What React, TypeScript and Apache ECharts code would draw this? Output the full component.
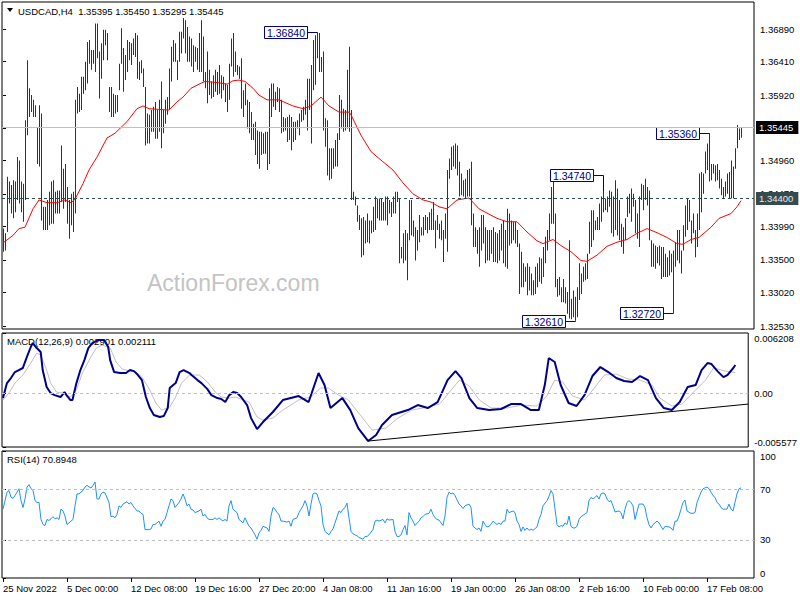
import React, { useEffect, useRef } from 'react';
import * as echarts from 'echarts';

// ---------- DATA ----------
const SYMBOL_HEADER = 'USDCAD,H4  1.35395 1.35450 1.35295 1.35445';
const MACD_HEADER = 'MACD(12,26,9) 0.002901 0.002111';
const RSI_HEADER = 'RSI(14) 70.8948';
const WATERMARK = 'ActionForex.com';

const X_LABELS = ['25 Nov 2022', '5 Dec 00:00', '12 Dec 08:00', '19 Dec 16:00', '27 Dec 20:00', '4 Jan 08:00',
  '11 Jan 16:00', '19 Jan 00:00', '26 Jan 08:00', '2 Feb 16:00', '10 Feb 00:00', '17 Feb 08:00'];
const BARS_PER_LABEL = 32;

const PRICE_TICKS = [1.3253, 1.3302, 1.335, 1.3399, 1.3447, 1.3496, 1.3544, 1.3592, 1.3641, 1.3689];
// 1.35440 sits under the current-price box in the picture, so its label is not shown
const PRICE_LABELS = [1.3253, 1.3302, 1.335, 1.3399, 1.3447, 1.3496, 1.3592, 1.3641, 1.3689];
const MACD_TICKS = [-0.005577, 0, 0.006208];
const RSI_TICKS = [0, 30, 70, 100];

const CURRENT_PRICE = 1.35445;
const SUPPORT_PRICE = 1.344;

const HIGHS = [
  1.3396, 1.3389, 1.3472, 1.3465, 1.3460, 1.3467, 1.3465, 1.3501, 1.3496, 1.3465,
  1.3462, 1.3555, 1.3643, 1.3602, 1.3592, 1.3585, 1.3577, 1.3545, 1.3577, 1.3565,
  1.3428, 1.3428, 1.3438, 1.3450, 1.3465, 1.3467, 1.3450, 1.3452, 1.3452, 1.3518,
  1.3484, 1.3491, 1.3457, 1.3438, 1.3447, 1.3450, 1.3585, 1.3604, 1.3594, 1.3619,
  1.3619, 1.3641, 1.3670, 1.3673, 1.3658, 1.3658, 1.3697, 1.3697, 1.3656, 1.3668,
  1.3688, 1.3688, 1.3683, 1.3604, 1.3604, 1.3594, 1.3592, 1.3592, 1.3638, 1.3690,
  1.3661, 1.3651, 1.3673, 1.3670, 1.3668, 1.3675, 1.3683, 1.3680, 1.3641, 1.3643,
  1.3631, 1.3604, 1.3565, 1.3563, 1.3570, 1.3575, 1.3582, 1.3570, 1.3585, 1.3612,
  1.3570, 1.3585, 1.3589, 1.3631, 1.3663, 1.3673, 1.3668, 1.3643, 1.3685, 1.3685,
  1.3705, 1.3702, 1.3692, 1.3678, 1.3675, 1.3665, 1.3663, 1.3661, 1.3683, 1.3702,
  1.3678, 1.3626, 1.3656, 1.3629, 1.3612, 1.3621, 1.3629, 1.3626, 1.3636, 1.3621,
  1.3619, 1.3609, 1.3607, 1.3638, 1.3675, 1.3683, 1.3656, 1.3636, 1.3634, 1.3646,
  1.3599, 1.3609, 1.3585, 1.3582, 1.3567, 1.3550, 1.3553, 1.3540, 1.3538, 1.3538,
  1.3536, 1.3538, 1.3538, 1.3602, 1.3609, 1.3609, 1.3597, 1.3604, 1.3602, 1.3585,
  1.3560, 1.3558, 1.3560, 1.3563, 1.3560, 1.3553, 1.3553, 1.3555, 1.3565, 1.3570,
  1.3575, 1.3585, 1.3616, 1.3616, 1.3636, 1.3673, 1.3680, 1.3684, 1.3683, 1.3648,
  1.3656, 1.3558, 1.3555, 1.3514, 1.3514, 1.3514, 1.3526, 1.3536, 1.3592, 1.3585,
  1.3572, 1.3570, 1.3629, 1.3663, 1.3570, 1.3450, 1.3443, 1.3430, 1.3416, 1.3411,
  1.3413, 1.3408, 1.3418, 1.3408, 1.3408, 1.3428, 1.3443, 1.3440, 1.3440, 1.3440,
  1.3435, 1.3443, 1.3443, 1.3438, 1.3435, 1.3443, 1.3450, 1.3450, 1.3440, 1.3369,
  1.3389, 1.3394, 1.3389, 1.3438, 1.3438, 1.3408, 1.3398, 1.3394, 1.3416, 1.3398,
  1.3413, 1.3416, 1.3413, 1.3420, 1.3425, 1.3435, 1.3408, 1.3416, 1.3403, 1.3408,
  1.3394, 1.3418, 1.3482, 1.3499, 1.3516, 1.3518, 1.3521, 1.3518, 1.3494, 1.3477,
  1.3467, 1.3469, 1.3482, 1.3484, 1.3494, 1.3418, 1.3398, 1.3394, 1.3398, 1.3416,
  1.3416, 1.3398, 1.3394, 1.3394, 1.3394, 1.3398, 1.3391, 1.3389, 1.3394, 1.3403,
  1.3408, 1.3394, 1.3425, 1.3418, 1.3408, 1.3406, 1.3406, 1.3394, 1.3374, 1.3362,
  1.3345, 1.3340, 1.3345, 1.3340, 1.3330, 1.3320, 1.3340, 1.3345, 1.3354, 1.3352,
  1.3369, 1.3384, 1.3394, 1.3418, 1.3457, 1.3474, 1.3418, 1.3322, 1.3325, 1.3310,
  1.3322, 1.3310, 1.3303, 1.3379, 1.3293, 1.3305, 1.3296, 1.3310, 1.3345, 1.3330,
  1.3340, 1.3345, 1.3359, 1.3406, 1.3423, 1.3423, 1.3408, 1.3413, 1.3433, 1.3443,
  1.3450, 1.3440, 1.3443, 1.3452, 1.3450, 1.3443, 1.3467, 1.3455, 1.3438, 1.3403,
  1.3398, 1.3411, 1.3443, 1.3447, 1.3455, 1.3447, 1.3438, 1.3418, 1.3443, 1.3462,
  1.3460, 1.3469, 1.3457, 1.3452, 1.3379, 1.3374, 1.3371, 1.3369, 1.3371, 1.3369,
  1.3369, 1.3359, 1.3354, 1.3364, 1.3359, 1.3364, 1.3376, 1.3394, 1.3394, 1.3364,
  1.3401, 1.3430, 1.3440, 1.3438, 1.3408, 1.3418, 1.3394, 1.3418, 1.3477, 1.3479,
  1.3477, 1.3509, 1.3521, 1.3536, 1.3491, 1.3491, 1.3489, 1.3491, 1.3482, 1.3469,
  1.3457, 1.3465, 1.3477, 1.3479, 1.3496, 1.3487, 1.3514, 1.3548, 1.3543, 1.3545,
];

const LOWS = [
  1.3362, 1.3364, 1.3391, 1.3433, 1.3418, 1.3411, 1.3420, 1.3438, 1.3433, 1.3420,
  1.3406, 1.3438, 1.3533, 1.3560, 1.3567, 1.3560, 1.3560, 1.3491, 1.3487, 1.3408,
  1.3394, 1.3394, 1.3394, 1.3401, 1.3403, 1.3403, 1.3418, 1.3418, 1.3418, 1.3435,
  1.3425, 1.3435, 1.3403, 1.3381, 1.3401, 1.3391, 1.3418, 1.3565, 1.3567, 1.3570,
  1.3594, 1.3599, 1.3609, 1.3638, 1.3629, 1.3638, 1.3626, 1.3646, 1.3587, 1.3616,
  1.3643, 1.3665, 1.3643, 1.3567, 1.3560, 1.3560, 1.3565, 1.3567, 1.3599, 1.3638,
  1.3597, 1.3614, 1.3626, 1.3643, 1.3636, 1.3651, 1.3648, 1.3616, 1.3614, 1.3624,
  1.3604, 1.3518, 1.3521, 1.3521, 1.3538, 1.3538, 1.3528, 1.3528, 1.3538, 1.3514,
  1.3536, 1.3550, 1.3563, 1.3570, 1.3612, 1.3641, 1.3641, 1.3614, 1.3641, 1.3653,
  1.3675, 1.3653, 1.3641, 1.3641, 1.3634, 1.3626, 1.3641, 1.3629, 1.3626, 1.3626,
  1.3612, 1.3602, 1.3580, 1.3592, 1.3587, 1.3589, 1.3597, 1.3592, 1.3594, 1.3587,
  1.3599, 1.3582, 1.3567, 1.3585, 1.3634, 1.3619, 1.3626, 1.3621, 1.3616, 1.3572,
  1.3560, 1.3577, 1.3543, 1.3536, 1.3526, 1.3526, 1.3504, 1.3491, 1.3484, 1.3504,
  1.3506, 1.3506, 1.3482, 1.3491, 1.3560, 1.3575, 1.3570, 1.3582, 1.3567, 1.3536,
  1.3538, 1.3540, 1.3523, 1.3526, 1.3511, 1.3523, 1.3526, 1.3543, 1.3533, 1.3553,
  1.3555, 1.3563, 1.3540, 1.3570, 1.3521, 1.3599, 1.3607, 1.3646, 1.3626, 1.3626,
  1.3540, 1.3516, 1.3474, 1.3467, 1.3469, 1.3484, 1.3487, 1.3487, 1.3526, 1.3543,
  1.3538, 1.3540, 1.3543, 1.3538, 1.3438, 1.3438, 1.3430, 1.3406, 1.3394, 1.3354,
  1.3357, 1.3374, 1.3376, 1.3374, 1.3389, 1.3391, 1.3394, 1.3411, 1.3408, 1.3408,
  1.3408, 1.3408, 1.3401, 1.3418, 1.3413, 1.3418, 1.3418, 1.3435, 1.3345, 1.3352,
  1.3345, 1.3349, 1.3320, 1.3379, 1.3386, 1.3384, 1.3349, 1.3364, 1.3376, 1.3386,
  1.3386, 1.3394, 1.3389, 1.3394, 1.3394, 1.3394, 1.3367, 1.3394, 1.3381, 1.3379,
  1.3347, 1.3381, 1.3362, 1.3469, 1.3482, 1.3487, 1.3484, 1.3474, 1.3443, 1.3445,
  1.3443, 1.3440, 1.3443, 1.3443, 1.3401, 1.3369, 1.3369, 1.3359, 1.3340, 1.3364,
  1.3374, 1.3345, 1.3349, 1.3349, 1.3359, 1.3347, 1.3347, 1.3345, 1.3349, 1.3364,
  1.3345, 1.3340, 1.3337, 1.3371, 1.3374, 1.3379, 1.3374, 1.3369, 1.3300, 1.3310,
  1.3310, 1.3318, 1.3298, 1.3305, 1.3298, 1.3298, 1.3300, 1.3310, 1.3318, 1.3315,
  1.3325, 1.3345, 1.3364, 1.3379, 1.3403, 1.3403, 1.3310, 1.3296, 1.3298, 1.3288,
  1.3288, 1.3286, 1.3271, 1.3264, 1.3263, 1.3266, 1.3261, 1.3266, 1.3291, 1.3300,
  1.3318, 1.3320, 1.3322, 1.3359, 1.3369, 1.3379, 1.3394, 1.3394, 1.3394, 1.3406,
  1.3420, 1.3423, 1.3420, 1.3428, 1.3389, 1.3384, 1.3394, 1.3386, 1.3379, 1.3369,
  1.3359, 1.3379, 1.3413, 1.3418, 1.3406, 1.3428, 1.3389, 1.3381, 1.3369, 1.3438,
  1.3423, 1.3438, 1.3430, 1.3379, 1.3340, 1.3340, 1.3337, 1.3345, 1.3342, 1.3322,
  1.3325, 1.3325, 1.3325, 1.3327, 1.3332, 1.3272, 1.3340, 1.3349, 1.3345, 1.3330,
  1.3364, 1.3384, 1.3394, 1.3406, 1.3374, 1.3389, 1.3354, 1.3369, 1.3394, 1.3420,
  1.3447, 1.3477, 1.3482, 1.3465, 1.3467, 1.3477, 1.3465, 1.3467, 1.3455, 1.3445,
  1.3440, 1.3443, 1.3447, 1.3440, 1.3440, 1.3440, 1.3484, 1.3514, 1.3526, 1.35295,
];

// moving average read at bar indices: [bar index, price]
const MA_POINTS: [number, number][] = [
  [0, 1.3375], [5, 1.3386], [8, 1.3396], [11, 1.3398], [15, 1.3425], [18, 1.3438], [22, 1.3434], [27, 1.3434],
  [31, 1.3438], [34, 1.3434], [36, 1.3439], [40, 1.3462], [43, 1.3482], [47, 1.3501], [52, 1.3529], [56, 1.3536],
  [62, 1.3553], [67, 1.3572], [70, 1.3576], [73, 1.3572], [78, 1.3571], [83, 1.3570], [87, 1.3582], [90, 1.3589],
  [94, 1.3602], [98, 1.3608], [101, 1.3612], [105, 1.3611], [108, 1.3610], [112, 1.3608], [115, 1.3613],
  [118, 1.3614], [121, 1.3612], [125, 1.3602], [128, 1.3592], [132, 1.3585], [138, 1.3585], [145, 1.3576],
  [150, 1.3572], [154, 1.3576], [159, 1.3589], [163, 1.3576], [168, 1.3567], [173, 1.3567], [174, 1.3563],
  [179, 1.3533], [184, 1.3509], [190, 1.3494], [195, 1.3482], [200, 1.3463], [205, 1.3447], [210, 1.3438],
  [214, 1.3435], [218, 1.3428], [222, 1.3425], [227, 1.3438], [233, 1.3441], [238, 1.3425], [247, 1.3411],
  [252, 1.3406], [257, 1.3406], [262, 1.3391], [267, 1.3378], [270, 1.3374], [275, 1.3380], [279, 1.3371],
  [284, 1.3362], [289, 1.3349], [292, 1.3348], [297, 1.3357], [302, 1.3370], [307, 1.3376], [312, 1.3380],
  [317, 1.3389], [322, 1.3396], [327, 1.3390], [332, 1.3383], [337, 1.3374], [340, 1.3373], [344, 1.3380],
  [348, 1.3383], [354, 1.3398], [358, 1.3411], [364, 1.3418], [367, 1.3428], [369, 1.3437],
];

// high/low labels: bar index the label points to, and the price written in it
const ANN_INDEX = [157, 300, 286, 335, 353];
const ANN_PRICE = [1.3684, 1.3474, 1.3261, 1.3272, 1.3536];

const MACD_POINTS: [number, number][] = [
  [0, -0.00052], [2, 0.00103], [4, 0.00155], [6, 0.00217], [8, 0.00238], [10, 0.00259], [12, 0.00372], [14, 0.00476],
  [15, 0.00517], [17, 0.00465], [19, 0.00424], [20, 0.00238], [22, 0.00062], [24, 0], [26, -0.00021], [29, -0.00041],
  [31, 0.0001], [32, -0.00021], [34, -0.00072], [35, -0.00072], [37, 0.00103], [39, 0.00238], [41, 0.00341],
  [43, 0.00465], [45, 0.00517], [48, 0.00548], [51, 0.00548], [53, 0.00476], [54, 0.00341], [56, 0.00217],
  [59, 0.00207], [62, 0.00207], [64, 0.00238], [66, 0.00227], [68, 0.00186], [70, 0.00134], [72, -0.00041],
  [74, -0.00155], [76, -0.00227], [79, -0.00248], [81, -0.00238], [83, -0.00155], [84, 0.00052], [87, 0.00103],
  [89, 0.00217], [91, 0.00238], [94, 0.00207], [95, 0.00186], [98, 0.00134], [100, 0.00103], [103, 0.00041],
  [105, -0.00021], [108, -0.00052], [110, -0.00062], [112, -0.00093], [114, -0.00021], [116, 0.0001], [118, 0],
  [120, -0.00041], [123, -0.00124], [125, -0.00259], [128, -0.00372], [131, -0.003], [136, -0.00196],
  [141, -0.00072], [149, -0.00031], [154, -0.00093], [159, 0.00207], [162, 0.00083], [165, -0.00155],
  [171, -0.00052], [175, -0.00176], [179, -0.00362], [184, -0.00496], [188, -0.00434], [191, -0.00331],
  [196, -0.00227], [204, -0.00176], [209, -0.00124], [214, -0.00155], [219, -0.00093], [224, 0.00134],
  [228, 0.00227], [231, 0.00155], [235, -0.00052], [239, -0.00155], [245, -0.00176], [251, -0.00165],
  [256, -0.00114], [261, -0.00114], [266, -0.00176], [270, -0.00176], [273, 0.00083], [275, 0.00362],
  [278, 0.00321], [281, 0.00083], [285, -0.00103], [289, -0.00134], [293, -0.00021], [297, 0.00176],
  [301, 0.00269], [305, 0.00217], [309, 0.00155], [313, 0.00124], [317, 0.00114], [321, 0.00176], [325, 0.00134],
  [329, -0.00052], [333, -0.00155], [337, -0.00176], [341, -0.00093], [345, 0.00062], [349, 0.00083],
  [352, 0.00238], [355, 0.0031], [357, 0.003], [360, 0.00227], [363, 0.00165], [365, 0.00186], [368, 0.00259],
  [369, 0.002901],
];

const SIGNAL_POINTS: [number, number][] = [
  [0, -0.00072], [3, 0], [6, 0.00103], [10, 0.00186], [14, 0.0031], [17, 0.00414], [19, 0.00393], [22, 0.00238],
  [24, 0.00103], [27, 0.0001], [30, 0], [34, -0.00041], [37, 0.00031], [40, 0.00207], [44, 0.00362], [47, 0.00465],
  [50, 0.00496], [54, 0.00465], [57, 0.00321], [60, 0.00248], [64, 0.00227], [67, 0.00217], [70, 0.00165],
  [74, 0.00031], [77, -0.00103], [80, -0.00176], [84, -0.00145], [87, -0.00041], [90, 0.00103], [94, 0.00186],
  [99, 0.00186], [103, 0.00114], [107, 0.0001], [110, -0.00041], [114, -0.00052], [117, -0.00041], [120, -0.00062],
  [124, -0.00093], [128, -0.00248], [131, -0.00279], [136, -0.00259], [141, -0.00176], [149, -0.00072],
  [155, -0.00041], [160, 0.00052], [164, 0.00052], [169, -0.00021], [174, -0.00072], [180, -0.00227],
  [186, -0.00383], [193, -0.00362], [199, -0.00259], [206, -0.00176], [214, -0.00145], [220, -0.00114],
  [225, 0.0001], [230, 0.00134], [235, 0.00072], [240, -0.00072], [246, -0.00155], [254, -0.00155],
  [261, -0.00124], [269, -0.00134], [274, -0.00031], [278, 0.00134], [282, 0.00114], [287, -0.00031],
  [293, -0.00072], [298, 0.00052], [303, 0.00186], [309, 0.00196], [315, 0.00145], [321, 0.00134], [327, 0.00083],
  [331, -0.00052], [337, -0.00134], [342, -0.00114], [348, 0.0001], [354, 0.00134], [358, 0.00259], [364, 0.00227],
  [369, 0.002111],
];

// trend line drawn on the MACD window: [bar index, value]
const MACD_TREND: [number, number][] = [[184, -0.00496], [375.5, -0.00114]];

const RSI_POINTS: [number, number][] = [
  [0, 54.2], [2, 67.6], [3, 68.9], [4, 63.5], [5, 62.7], [6, 64.9], [8, 70.3], [9, 60.9], [10, 55.5], [11, 62.2],
  [12, 71.6], [13, 73.5], [14, 70.3], [15, 68.9], [16, 60.9], [17, 59.5], [18, 59.5], [19, 46.1], [20, 42.1],
  [21, 41.3], [22, 46.1], [23, 45.3], [24, 46.6], [25, 48.3], [26, 46.6], [27, 47.4], [28, 46.1], [29, 54.2],
  [30, 52.8], [31, 48.8], [32, 42.1], [33, 43.4], [35, 46.1], [36, 56.8], [37, 66.2], [38, 66.2], [39, 67.6],
  [40, 68.9], [41, 71.6], [42, 72.9], [44, 70.8], [45, 72.9], [46, 75.6], [47, 62.2], [48, 62.2], [49, 66.2],
  [50, 67.6], [51, 67.0], [53, 59.5], [54, 48.3], [55, 48.8], [56, 47.4], [57, 50.1], [58, 56.8], [59, 55.5],
  [60, 58.2], [62, 60.1], [63, 58.2], [64, 59.5], [65, 56.8], [67, 52.8], [68, 52.8], [69, 50.9], [70, 50.1],
  [71, 38.1], [73, 38.1], [74, 38.6], [75, 42.1], [76, 42.1], [78, 44.8], [79, 40.7], [80, 44.8], [81, 46.1],
  [82, 51.5], [83, 56.8], [84, 62.2], [85, 60.9], [86, 55.5], [88, 59.5], [89, 62.2], [90, 66.2], [91, 62.2],
  [92, 56.8], [93, 58.2], [94, 54.2], [95, 53.6], [96, 51.5], [98, 52.8], [99, 54.2], [100, 48.8], [101, 50.1],
  [102, 47.4], [103, 46.1], [105, 46.1], [106, 47.4], [107, 46.1], [108, 47.4], [110, 44.8], [111, 46.1],
  [112, 44.8], [113, 56.8], [114, 60.9], [115, 54.2], [116, 52.8], [117, 51.5], [118, 46.1], [119, 44.8],
  [120, 43.4], [121, 47.4], [123, 40.7], [124, 39.4], [125, 36.7], [126, 34.0], [127, 30.5], [128, 35.4],
  [129, 37.5], [130, 40.7], [132, 39.4], [133, 36.7], [134, 48.8], [135, 55.5], [136, 54.2], [137, 51.5],
  [138, 50.1], [139, 44.8], [140, 44.8], [142, 44.0], [143, 44.8], [144, 40.7], [145, 46.1], [147, 47.4],
  [148, 51.5], [149, 54.2], [150, 56.8], [151, 60.9], [152, 56.8], [153, 48.8], [154, 58.2], [155, 66.2],
  [156, 67.0], [157, 66.2], [158, 60.9], [159, 56.8], [160, 42.1], [161, 36.7], [163, 34.0], [164, 36.7],
  [165, 38.6], [166, 43.4], [168, 52.8], [169, 51.5], [170, 54.2], [171, 55.5], [172, 59.0], [173, 47.4],
  [174, 36.7], [175, 34.8], [177, 33.2], [178, 31.9], [180, 30.5], [181, 32.7], [182, 32.7], [183, 34.0],
  [185, 38.1], [186, 44.8], [187, 45.6], [188, 44.8], [190, 46.1], [191, 43.4], [192, 46.6], [193, 45.6],
  [195, 46.1], [196, 36.7], [197, 32.7], [198, 32.7], [199, 34.0], [200, 38.1], [201, 41.3], [202, 34.0],
  [203, 51.5], [204, 47.4], [205, 44.8], [206, 41.3], [208, 44.8], [209, 47.4], [210, 48.3], [211, 50.1],
  [213, 50.9], [214, 54.2], [215, 50.1], [216, 47.4], [217, 46.1], [218, 45.6], [220, 41.3], [221, 48.8],
  [222, 63.5], [223, 67.6], [224, 66.2], [225, 67.0], [226, 64.9], [228, 58.2], [229, 56.8], [230, 54.7],
  [231, 56.8], [233, 58.2], [234, 55.5], [235, 40.7], [236, 39.4], [237, 38.1], [238, 39.4], [239, 36.7],
  [240, 44.8], [241, 42.1], [242, 40.2], [243, 40.7], [244, 42.1], [245, 44.8], [247, 42.1], [248, 43.4],
  [249, 42.1], [250, 44.8], [251, 44.8], [252, 54.2], [253, 51.5], [255, 52.8], [256, 51.5], [257, 44.8],
  [258, 42.1], [259, 36.7], [260, 40.2], [261, 37.5], [262, 39.4], [263, 37.5], [264, 38.6], [265, 37.5],
  [267, 40.2], [268, 46.1], [269, 50.1], [270, 56.8], [272, 60.9], [273, 64.4], [274, 68.9], [275, 66.2],
  [276, 54.2], [277, 42.1], [278, 40.2], [279, 41.3], [280, 40.7], [281, 43.4], [282, 42.1], [283, 48.8],
  [284, 40.7], [285, 39.4], [286, 39.4], [287, 40.7], [288, 46.1], [289, 48.3], [290, 49.3], [292, 51.5],
  [293, 60.9], [294, 63.5], [295, 62.2], [296, 63.5], [297, 64.9], [298, 62.2], [299, 66.2], [300, 67.0],
  [301, 66.2], [302, 62.2], [303, 60.1], [304, 60.9], [305, 56.8], [306, 52.0], [308, 52.8], [309, 51.5],
  [310, 46.6], [311, 54.2], [312, 59.5], [313, 60.9], [314, 59.5], [315, 56.8], [316, 46.1], [318, 58.2],
  [319, 58.2], [320, 58.2], [321, 55.5], [322, 47.4], [323, 42.1], [324, 39.4], [325, 42.1], [327, 44.8],
  [328, 43.4], [329, 40.7], [330, 38.1], [331, 40.7], [333, 40.2], [334, 39.4], [335, 37.5], [336, 44.8],
  [337, 44.8], [338, 48.8], [339, 54.2], [340, 59.5], [341, 61.4], [342, 52.8], [344, 50.9], [345, 50.9],
  [346, 51.5], [347, 59.5], [348, 63.5], [349, 67.6], [350, 70.3], [352, 71.6], [353, 70.3], [354, 67.6],
  [355, 64.9], [356, 63.5], [357, 59.5], [358, 58.2], [359, 55.5], [360, 54.2], [362, 54.2], [363, 58.2],
  [364, 54.2], [365, 52.8], [366, 59.5], [367, 66.2], [368, 70.3], [369, 70.8948],
];

// ---------- STYLE ----------
const FONT = "'Liberation Sans', Arial, sans-serif";
const FS = 9.5;
const BAR_COLOR = '#0F3D57';
const NAVY = '#000088';

export default function App() {
  const ref = useRef<HTMLDivElement>(null);

  useEffect(() => {
    const chart = echarts.init(ref.current!, null, { renderer: 'svg' });
    const xTicks = X_LABELS.map((_, k) => k * BARS_PER_LABEL);
    const xMax = 375.5;

    const barData = HIGHS.map((h, i) => [i, LOWS[i], h]);
    const annData = ANN_INDEX.map((idx, k) => {
      const p = ANN_PRICE[k];
      const end = p > HIGHS[idx] ? HIGHS[idx] : p < LOWS[idx] ? LOWS[idx] : p;
      return [idx, p, end];
    });

    const baseX = (gridIndex: number) => ({
      type: 'value', gridIndex, min: -0.5, max: xMax, show: false, splitLine: { show: false },
    });
    const yLabel = { color: '#000', fontSize: FS, fontFamily: FONT, margin: 6 };
    const edgeRich = {
      top: { padding: [10, 0, 0, 0], color: '#000', fontSize: FS, fontFamily: FONT },
      bot: { padding: [0, 0, 10, 0], color: '#000', fontSize: FS, fontFamily: FONT },
    };

    const option: any = {
      animation: false,
      backgroundColor: '#ffffff',
      grid: [
        { left: 2, top: 2, width: 752, height: 327, show: true, borderColor: '#000', borderWidth: 1, backgroundColor: 'transparent' },
        { left: 2, top: 333, width: 752, height: 114, show: true, borderColor: '#000', borderWidth: 1, backgroundColor: 'transparent' },
        { left: 2, top: 451, width: 752, height: 127, show: true, borderColor: '#000', borderWidth: 1, backgroundColor: 'transparent' },
      ],
      xAxis: [
        baseX(0),
        baseX(1),
        {
          type: 'value', gridIndex: 2, min: -0.5, max: xMax,
          axisLine: { show: false }, splitLine: { show: false },
          axisTick: { show: true, length: 4, customValues: xTicks, lineStyle: { color: '#000' } },
          axisLabel: {
            customValues: xTicks, align: 'left', margin: 5, color: '#000', fontSize: FS, fontFamily: FONT,
            formatter: (v: number) => X_LABELS[Math.round(v / BARS_PER_LABEL)] ?? '',
          },
        },
      ],
      yAxis: [
        {
          type: 'value', gridIndex: 0, position: 'right', min: 1.32486, max: 1.372864,
          splitLine: { show: false }, axisLine: { show: false },
          axisTick: { show: true, length: 3, customValues: PRICE_TICKS, lineStyle: { color: '#000' } },
          axisLabel: { ...yLabel, customValues: PRICE_LABELS, formatter: (v: number) => v.toFixed(5) },
        },
        {
          type: 'value', gridIndex: 1, position: 'right', min: MACD_TICKS[0], max: MACD_TICKS[2],
          splitLine: { show: false }, axisLine: { show: false },
          axisTick: { show: true, length: 3, customValues: MACD_TICKS, lineStyle: { color: '#000' } },
          axisLabel: {
            ...yLabel, customValues: MACD_TICKS, rich: edgeRich,
            formatter: (v: number) => v === 0 ? '0.00' : v > 0 ? `{top|${v.toFixed(6)}}` : `{bot|${v.toFixed(6)}}`,
          },
        },
        {
          type: 'value', gridIndex: 2, position: 'right', min: 0, max: 100,
          splitLine: { show: false }, axisLine: { show: false },
          axisTick: { show: true, length: 3, customValues: RSI_TICKS, lineStyle: { color: '#000' } },
          axisLabel: {
            ...yLabel, customValues: RSI_TICKS, rich: edgeRich,
            formatter: (v: number) => v === 100 ? '{top|100}' : v === 0 ? '{bot|0}' : String(v),
          },
        },
      ],
      graphic: [
        { type: 'text', x: 147, y: 283, z: 0, silent: true, style: { text: WATERMARK, fill: '#C4C4C4', font: `23px ${FONT}`, verticalAlign: 'middle' } },
        { type: 'polygon', z: 0, silent: true, shape: { points: [[7, 8], [13, 8], [10, 12]] }, style: { fill: '#000' } },
        { type: 'text', x: 18, y: 11, z: 0, silent: true, style: { text: SYMBOL_HEADER, fill: '#000', font: `${FS}px ${FONT}`, verticalAlign: 'middle' } },
        { type: 'text', x: 7, y: 341, z: 0, silent: true, style: { text: MACD_HEADER, fill: '#000', font: `${FS}px ${FONT}`, verticalAlign: 'middle' } },
        { type: 'text', x: 7, y: 459, z: 0, silent: true, style: { text: RSI_HEADER, fill: '#000', font: `${FS}px ${FONT}`, verticalAlign: 'middle' } },
      ],
      series: [
        {
          name: 'bars', type: 'custom', xAxisIndex: 0, yAxisIndex: 0, clip: true, silent: true,
          encode: { x: 0, y: [1, 2] },
          data: barData,
          renderItem: (_p: any, api: any) => {
            const i = api.value(0);
            const lo = api.coord([i, api.value(1)]);
            const hi = api.coord([i, api.value(2)]);
            return {
              type: 'rect',
              shape: { x: Math.round(hi[0]), y: hi[1], width: 1, height: Math.max(1, lo[1] - hi[1]) },
              style: { fill: BAR_COLOR },
            };
          },
        },
        {
          name: 'MA', type: 'line', xAxisIndex: 0, yAxisIndex: 0, data: MA_POINTS, symbol: 'none', silent: true,
          lineStyle: { color: '#FF0000', width: 1 }, z: 3,
          markLine: {
            silent: true, symbol: ['none', 'none'], animation: false, precision: 6,
            data: [
              {
                yAxis: CURRENT_PRICE, lineStyle: { color: '#C0C0C0', type: 'solid', width: 1 },
                label: { show: true, position: 'end', distance: 2, formatter: CURRENT_PRICE.toFixed(5), color: '#fff', backgroundColor: '#000', padding: [2, 5, 1, 3], fontSize: FS, fontFamily: FONT },
              },
              {
                yAxis: SUPPORT_PRICE, lineStyle: { color: '#2F4F4F', type: [3, 3], width: 1 },
                label: { show: true, position: 'end', distance: 2, formatter: SUPPORT_PRICE.toFixed(5), color: '#E8E8E8', backgroundColor: '#364B4E', padding: [2, 5, 1, 3], fontSize: FS, fontFamily: FONT },
              },
            ],
          },
        },
        {
          name: 'labels', type: 'custom', xAxisIndex: 0, yAxisIndex: 0, silent: true, z: 4,
          encode: { x: 0, y: 1 },
          data: annData,
          renderItem: (_p: any, api: any) => {
            const i = api.value(0);
            const price = api.value(1);
            const a = api.coord([i, price]);
            const b = api.coord([i, api.value(2)]);
            const ax = Math.round(a[0]) + 0.5;
            const ay = Math.round(a[1]) + 0.5;
            const bw = 43, bh = 12, gap = 10;
            const right = ax - gap;
            return {
              type: 'group',
              children: [
                { type: 'polyline', shape: { points: [[right, ay], [ax, ay], [ax, b[1]]] }, style: { stroke: NAVY, lineWidth: 1, fill: null } },
                { type: 'rect', shape: { x: right - bw, y: ay - bh / 2, width: bw, height: bh }, style: { fill: '#fff', stroke: NAVY, lineWidth: 1 } },
                { type: 'text', style: { text: price.toFixed(5), x: right - bw / 2, y: ay + 0.5, align: 'center', verticalAlign: 'middle', fill: NAVY, font: `10.5px ${FONT}` } },
              ],
            };
          },
        },
        {
          name: 'signal', type: 'line', xAxisIndex: 1, yAxisIndex: 1, data: SIGNAL_POINTS, symbol: 'none', silent: true,
          lineStyle: { color: '#C0C0C0', width: 1 },
          markLine: {
            silent: true, symbol: ['none', 'none'], animation: false, precision: 6, label: { show: false },
            data: [
              { yAxis: 0, lineStyle: { color: '#C0C0C0', type: [3, 3], width: 1 } },
              [
                { coord: MACD_TREND[0], lineStyle: { color: '#000', type: 'solid', width: 1 } },
                { coord: MACD_TREND[1] },
              ],
            ],
          },
        },
        {
          name: 'MACD', type: 'line', xAxisIndex: 1, yAxisIndex: 1, data: MACD_POINTS, symbol: 'none', silent: true,
          lineStyle: { color: NAVY, width: 2 }, z: 3,
        },
        {
          name: 'RSI', type: 'line', xAxisIndex: 2, yAxisIndex: 2, data: RSI_POINTS, symbol: 'none', silent: true,
          lineStyle: { color: '#1E90FF', width: 1 },
          markLine: {
            silent: true, symbol: ['none', 'none'], animation: false, precision: 2, label: { show: false },
            data: [
              { yAxis: 70, lineStyle: { color: '#C0C0C0', type: [3, 3], width: 1 } },
              { yAxis: 30, lineStyle: { color: '#C0C0C0', type: [3, 3], width: 1 } },
            ],
          },
        },
      ],
    };
    chart.setOption(option);
    return () => chart.dispose();
  }, []);

  return (
    <div
      ref={ref}
      style={{ position: 'absolute', left: 0, top: 0, width: 800, height: 600, background: '#fff' }}
    />
  );
}
